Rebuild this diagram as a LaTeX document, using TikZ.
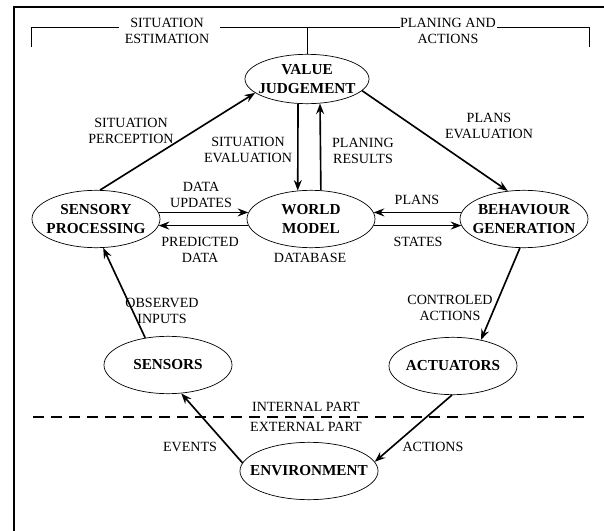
\documentclass[tikz,border=0pt]{standalone}
\usepackage{fontspec}
\setmainfont{Liberation Serif}
\usetikzlibrary{shapes.geometric,arrows.meta}

\begin{document}
\begin{tikzpicture}[x=0.03cm, y=-0.03cm,
    block/.style={ellipse, draw, line width=0.6pt, minimum width=3.84cm,
        minimum height=1.72cm, inner xsep=-3mm, inner ysep=-1mm,
        align=center, font=\fontsize{13}{15.5}\selectfont\bfseries},
    lbl/.style={align=center, inner sep=0pt,
        font=\fontsize{12}{13.6}\selectfont},
    flow/.style={line width=1.4pt,
        -{Stealth[length=3.2mm, width=2.4mm, inset=1.1mm]}}]
    \useasboundingbox (0,0) rectangle (604,531);
    \begin{scope}[line width=1pt] % Frame and bracket
        \draw (604,7) -- (14,7) -- (14,531);
        \draw[line width=0.8pt] (31,47) |- (119,27);
        \draw[line width=0.8pt] (220,27) -- (400,27);
        \draw[line width=0.8pt] (497,27) -| (589,47);
        \coordinate (brk) at (310,27);
        \node[lbl] (sitest) at (167,31) {SITUATION\\ESTIMATION};
        \node[lbl] (plact) at (448,31) {PLANING AND\\ACTIONS};
    \end{scope}
    \begin{scope} % Blocks
        \node[block, minimum width=3.72cm, minimum height=1.48cm] (vj)
            at (307,79) {VALUE\\JUDGEMENT};
        \node[block] (sp) at (96,219) {SENSORY\\PROCESSING};
        \node[block] (wm) at (311,219) {WORLD\\MODEL};
        \node[block] (bg) at (524,219) {BEHAVIOUR\\GENERATION};
        \node[block] (sen) at (168,365) {SENSORS};
        \node[block] (act) at (453,366) {ACTUATORS};
        \node[block] (env) at (309,471) {ENVIRONMENT};
    \end{scope}
    \draw[line width=0.8pt] (vj.north) -- (vj.north |- brk);
    \begin{scope} % Flows
        \draw[flow] (sp.82) -- (vj.195);
        \draw[flow] (vj.250) -- (wm.115);
        \draw[flow] (wm.71) -- (vj.298);
        \draw[flow] (vj.-12) -- (bg.120);
        \draw[flow] (sp.6) -- (wm.174);
        \draw[flow] (wm.186) -- (sp.-6);
        \draw[flow] (bg.174) -- (wm.6);
        \draw[flow] (wm.-6) -- (bg.186);
        \draw[flow] (bg.-98) -- (act.43);
        \draw[flow] (sen.130) -- (sp.284);
        \draw[flow] (env.173) -- (sen.295);
        \draw[flow] (act.-92) -- (env.8);
    \end{scope}
    \begin{scope} % Labels
        \node[lbl] (sitper) at (131,131) {SITUATION\\PERCEPTION};
        \node[lbl] (siteval) at (248,150) {SITUATION\\EVALUATION};
        \node[lbl] (planres) at (363,151) {PLANING\\RESULTS};
        \node[lbl] (planeval) at (489,126) {PLANS\\EVALUATION};
        \node[lbl] (dataup) at (201,195) {DATA\\UPDATES};
        \node[lbl] (preddata) at (200,250) {PREDICTED\\DATA};
        \node[lbl] (dbase) at (310,258) {DATABASE};
        \node[lbl] (plans) at (417,200) {PLANS};
        \node[lbl] (states) at (418,242) {STATES};
        \node[lbl] (obsin) at (162,311) {OBSERVED\\INPUTS};
        \node[lbl] (ctrlact) at (450,308) {CONTROLED\\ACTIONS};
        \node[lbl] (events) at (190,447) {EVENTS};
        \node[lbl] (actions) at (433,447) {ACTIONS};
    \end{scope}
    \begin{scope} % Internal / external border
        \draw[line width=1.4pt, dash pattern=on 3.3mm off 2.1mm]
            (33,417) -- (589,417);
        \node[lbl] (intpart) at (306,407) {INTERNAL PART};
        \node[lbl] (extpart) at (306,427) {EXTERNAL PART};
    \end{scope}
\end{tikzpicture}
\end{document}
